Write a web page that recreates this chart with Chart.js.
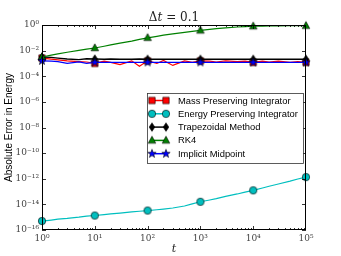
<!DOCTYPE html>
<html><head><meta charset="utf-8">
<script src="https://cdn.jsdelivr.net/npm/chart.js@4"></script>
<style>html,body{margin:0;padding:0;background:#fff}#c{display:block}</style>
</head><body>
<canvas id="c" width="341" height="256"></canvas>
<script>
const tValues = [1,1.5,2,3,5,7,10,15,20,30,50,70,100,150,200,300,500,700,1000,1500,2000,3000,5000,7000,10000,15000,20000,30000,50000,70000,100000];
const massErr = [2.6e-3,2.2e-3,1.9e-3,1.6e-3,1.4e-3,1.3e-3,1.0e-3,1.5e-3,1.2e-3,0.8e-3,1.6e-3,0.6e-3,1.6e-3,1.0e-3,1.7e-3,0.7e-3,1.6e-3,1.2e-3,1.6e-3,1.5e-3,1.3e-3,1.6e-3,1.4e-3,1.5e-3,1.2e-3,1.5e-3,1.3e-3,1.5e-3,1.2e-3,1.4e-3,1.2e-3];
const energyErr = [5e-16,6e-16,7e-16,8e-16,1.0e-15,1.2e-15,1.35e-15,1.6e-15,1.8e-15,2.1e-15,2.6e-15,2.9e-15,3.3e-15,3.8e-15,4.3e-15,5.2e-15,7.5e-15,1.1e-14,1.6e-14,2.2e-14,2.8e-14,4.2e-14,6.5e-14,9e-14,1.25e-13,1.9e-13,2.6e-13,3.9e-13,6.5e-13,9.5e-13,1.35e-12];
const trapErr = [3.2e-3,3.0e-3,2.6e-3,2.2e-3,2.0e-3,2.3e-3,2.2e-3,2.1e-3,2.2e-3,2.1e-3,2.1e-3,2.2e-3,2.1e-3,2.1e-3,2.1e-3,2.1e-3,2.1e-3,2.1e-3,2.1e-3,2.1e-3,2.1e-3,2.1e-3,2.1e-3,2.1e-3,2.1e-3,2.1e-3,2.1e-3,2.1e-3,2.1e-3,2.1e-3,2.1e-3];
const rk4Err = [3.2e-3,4.5e-3,5.5e-3,7.5e-3,1.05e-2,1.3e-2,1.6e-2,2.2e-2,2.8e-2,3.8e-2,5.5e-2,7.5e-2,1.0e-1,1.3e-1,1.6e-1,2.0e-1,2.7e-1,3.2e-1,3.8e-1,4.5e-1,5.2e-1,6.0e-1,7.0e-1,7.5e-1,8.0e-1,8.3e-1,8.5e-1,8.6e-1,8.7e-1,8.8e-1,8.8e-1];
const midErr = [1.6e-3,1.5e-3,1.4e-3,1.0e-3,1.3e-3,1.0e-3,1.2e-3,1.2e-3,1.2e-3,1.2e-3,1.2e-3,1.2e-3,1.2e-3,1.2e-3,1.2e-3,1.2e-3,1.2e-3,1.2e-3,1.2e-3,1.2e-3,1.2e-3,1.2e-3,1.2e-3,1.2e-3,1.2e-3,1.2e-3,1.2e-3,1.2e-3,1.2e-3,1.2e-3,1.2e-3];
const seriesNames = ['Mass Preserving Integrator','Energy Preserving Integrator','Trapezoidal Method','RK4','Implicit Midpoint'];
const xTickValues = [1,10,100,1000,10000,100000];
const xTickLabels = ['10⁰','10¹','10²','10³','10⁴','10⁵'];
const yTickValues = [1e-16,1e-14,1e-12,1e-10,1e-8,1e-6,1e-4,1e-2,1];
const yTickLabels = ['10⁻¹⁶','10⁻¹⁴','10⁻¹²','10⁻¹⁰','10⁻⁸','10⁻⁶','10⁻⁴','10⁻²','10⁰'];
const markerIdx = [0,6,12,18,24,30];

function makeMarker(shape, fill){
  const s = 12, c = document.createElement('canvas');
  c.width = s; c.height = s;
  const g = c.getContext('2d');
  g.translate(s/2, s/2);
  g.beginPath();
  if (shape==='square'){ g.rect(-3.2,-3.2,6.4,6.4); }
  else if (shape==='circle'){ g.arc(0,0,3.7,0,Math.PI*2); }
  else if (shape==='diamond'){ g.moveTo(0,-4.3); g.lineTo(2.8,0); g.lineTo(0,4.3); g.lineTo(-2.8,0); g.closePath(); }
  else if (shape==='triangle'){ g.moveTo(0,-4.2); g.lineTo(3.8,2.8); g.lineTo(-3.8,2.8); g.closePath(); }
  else if (shape==='star'){
    for (let k=0;k<10;k++){ const r = k%2?1.8:4.4; const a = -Math.PI/2 + k*Math.PI/5; const px=r*Math.cos(a), py=r*Math.sin(a); k?g.lineTo(px,py):g.moveTo(px,py);} g.closePath();
  }
  g.fillStyle = fill; g.fill();
  g.lineWidth = 0.6; g.strokeStyle = '#000'; g.stroke();
  return c;
}
const colors = ['#ff0000','#00bfbf','#000000','#008000','#0000ff'];
const markers = [makeMarker('square',colors[0]),makeMarker('circle',colors[1]),makeMarker('diamond',colors[2]),makeMarker('triangle',colors[3]),makeMarker('star',colors[4])];
const allData = [massErr, energyErr, trapErr, rk4Err, midErr];

const datasets = allData.map((arr,i)=>({
  label: seriesNames[i],
  data: tValues.map((t,j)=>({x:t,y:arr[j]})),
  borderColor: colors[i],
  borderWidth: i===2 ? 1.4 : 1.2,
  tension: 0,
  pointStyle: markers[i],
  pointRadius: ctx => markerIdx.includes(ctx.dataIndex) ? 4 : 0,
  pointHoverRadius: 0,
  clip: false,
  order: 5 - i
}));

const framePlugin = {
  id: 'frame',
  afterDatasetsDraw(chart){
    const {ctx, chartArea:a, scales:{x,y}} = chart;
    ctx.save();
    ctx.strokeStyle = '#000'; ctx.lineWidth = 1;
    ctx.strokeRect(a.left+0.5, a.top+0.5, a.right-a.left-1, a.bottom-a.top-1);
    ctx.beginPath();
    for (let d=0; d<5; d++){
      for (let m=1; m<10; m++){
        const v = Math.pow(10,d)*m;
        const px = Math.round(x.getPixelForValue(v))+0.5;
        const L = m===1 ? 4 : 2;
        ctx.moveTo(px, a.bottom); ctx.lineTo(px, a.bottom-L);
        ctx.moveTo(px, a.top); ctx.lineTo(px, a.top+L);
      }
    }
    yTickValues.forEach(v=>{
      const py = Math.round(y.getPixelForValue(v))+0.5;
      ctx.moveTo(a.left, py); ctx.lineTo(a.left+4, py);
      ctx.moveTo(a.right, py); ctx.lineTo(a.right-4, py);
    });
    ctx.lineWidth = 0.8;
    ctx.stroke();
    ctx.restore();
  },
  afterDraw(chart){
    const {ctx, chartArea:a} = chart;
    ctx.save();
    ctx.fillStyle = '#222';
    ctx.textBaseline = 'alphabetic';
    const cx = (a.left + a.right)/2;
    const parts = [['Δ','12px "DejaVu Serif"'],['t','italic 12px "DejaVu Serif"'],[' = 0.1','12px "DejaVu Serif"']];
    let w = 0; parts.forEach(p=>{ctx.font=p[1]; w+=ctx.measureText(p[0]).width;});
    let xx = cx - w/2;
    parts.forEach(p=>{ctx.font=p[1]; ctx.fillText(p[0], xx, 21); xx+=ctx.measureText(p[0]).width;});
    ctx.font = 'italic 11px "DejaVu Serif"';
    ctx.textAlign = 'center';
    ctx.fillText('t', cx, 252);
    ctx.save();
    ctx.translate(9, (a.top+a.bottom)/2);
    ctx.rotate(-Math.PI/2);
    ctx.font = '10px "Liberation Sans"';
    ctx.fillStyle = '#000';
    ctx.textBaseline = 'middle';
    ctx.fillText('Absolute Error in Energy', 0, 0);
    ctx.restore();
    const lx = 147, ly = 93, lw = 156, lh = 70;
    ctx.fillStyle = '#fff';
    ctx.fillRect(lx, ly, lw, lh);
    ctx.strokeStyle = '#333'; ctx.lineWidth = 0.8;
    ctx.strokeRect(lx+0.5, ly+0.5, lw, lh);
    ctx.textAlign = 'left'; ctx.textBaseline = 'middle';
    ctx.font = '9.4px "Liberation Sans"';
    seriesNames.forEach((n,i)=>{
      const yy = 100.5 + i*13.3;
      ctx.strokeStyle = colors[i]; ctx.lineWidth = 1.5;
      ctx.beginPath(); ctx.moveTo(152, yy); ctx.lineTo(166, yy); ctx.stroke();
      ctx.drawImage(markers[i], 152-6, yy-6);
      ctx.drawImage(markers[i], 166-6, yy-6);
      ctx.fillStyle = '#000';
      ctx.fillText(n, 178, yy+0.5);
    });
    ctx.restore();
  }
};

new Chart(document.getElementById('c'), {
  type: 'line',
  data: { datasets },
  options: {
    responsive: false,
    animation: false,
    events: [],
    layout: { padding: { left: 0, top: 25, right: 35, bottom: 0 } },
    plugins: { legend: { display: false }, title: { display: false }, tooltip: { enabled: false } },
    scales: {
      x: {
        type: 'logarithmic', min: 1, max: 100000,
        afterBuildTicks: s => { s.ticks = xTickValues.map(v=>({value:v})); },
        afterFit: s => { s.height = 26; },
        ticks: { callback: v => xTickLabels[xTickValues.indexOf(v)], color: '#444', font: { family: 'DejaVu Serif', size: 9 }, padding: 3, maxRotation: 0, autoSkip: false },
        grid: { drawOnChartArea: false, drawTicks: false },
        border: { display: false }
      },
      y: {
        type: 'logarithmic', min: 1e-16, max: 1,
        afterBuildTicks: s => { s.ticks = yTickValues.map(v=>({value:v})); },
        afterFit: s => { s.width = 42; },
        ticks: { callback: v => yTickLabels[yTickValues.indexOf(v)], color: '#444', font: { family: 'DejaVu Serif', size: 9 }, padding: 3, autoSkip: false },
        grid: { drawOnChartArea: false, drawTicks: false },
        border: { display: false }
      }
    }
  },
  plugins: [framePlugin]
});
</script>
</body></html>
